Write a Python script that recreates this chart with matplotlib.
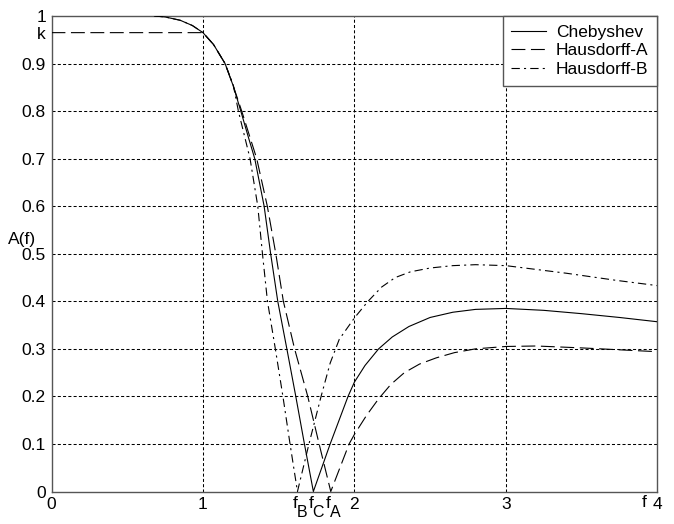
import matplotlib
matplotlib.use("Agg")
import matplotlib.pyplot as plt

plt.rcParams['font.family'] = ['Liberation Sans', 'DejaVu Sans']
plt.rcParams['font.size'] = 12.5
plt.rcParams['lines.scale_dashes'] = False

# passband level k and the three zeros
k = 0.965
f_B = 1.624
f_C = 1.729
f_A = 1.844

# Chebyshev (solid)
cheb_x = [0.68, 0.75, 0.85, 0.93, 1.0, 1.07, 1.146, 1.2, 1.25, 1.3, 1.342, 1.404, 1.447, 1.494,
          1.554, 1.613, 1.670, f_C, 1.84, 1.958, 2.0, 2.07, 2.16, 2.25, 2.36, 2.5, 2.65, 2.8,
          3.0, 3.25, 3.5, 3.75, 4.0]
cheb_y = [1.0, 0.998, 0.991, 0.98, 0.965, 0.94, 0.9, 0.853, 0.8, 0.745, 0.7, 0.6, 0.5, 0.4,
          0.3, 0.2, 0.1, 0.0, 0.1, 0.2, 0.23, 0.265, 0.3, 0.325, 0.347, 0.366, 0.377, 0.383,
          0.385, 0.381, 0.374, 0.366, 0.357]

# Hausdorff-A (dashed)
ha_x = [0.0, 1.0, 1.07, 1.146, 1.2, 1.256, 1.355, 1.425, 1.481, 1.531, 1.605, 1.692,
        1.767, f_A, 1.965, 2.0, 2.08, 2.16, 2.24, 2.33, 2.43, 2.54, 2.66, 2.8, 3.0, 3.2,
        3.5, 3.75, 4.0]
ha_y = [k, k, 0.94, 0.9, 0.853, 0.8, 0.7, 0.6, 0.5, 0.4, 0.3, 0.2,
        0.1, 0.0, 0.1, 0.12, 0.16, 0.195, 0.225, 0.25, 0.268, 0.281, 0.292, 0.3, 0.305, 0.306,
        0.302, 0.298, 0.294]

# Hausdorff-B (dash-dot)
hb_x = [0.68, 0.75, 0.85, 0.93, 1.0, 1.07, 1.146, 1.2, 1.234, 1.311, 1.362, 1.393, 1.426,
        1.478, 1.528, 1.575, f_B, 1.70, 1.78, 1.84, 1.9, 2.0, 2.09, 2.18, 2.27, 2.37, 2.5,
        2.65, 2.8, 3.0, 3.4, 3.73, 4.0]
hb_y = [1.0, 0.998, 0.991, 0.98, 0.965, 0.94, 0.9, 0.855, 0.8, 0.7, 0.6, 0.5, 0.4,
        0.3, 0.2, 0.1, 0.0, 0.1, 0.2, 0.27, 0.32, 0.365, 0.4, 0.43, 0.45, 0.462, 0.47,
        0.475, 0.477, 0.475, 0.459, 0.444, 0.433]

xtick_pos = [0, 1, f_B, f_C, f_A, 2, 3, 4]
xtick_lab = ['0', '1', '', '', '', '2', '3', '4']
sub_pos = [f_B, f_C, f_A]
sub_lab = ['B', 'C', 'A']
ytick_pos = [0, 0.1, 0.2, 0.3, 0.4, 0.5, 0.6, 0.7, 0.8, 0.9, k, 1]
ytick_lab = ['0', '0.1', '0.2', '0.3', '0.4', '0.5', '0.6', '0.7', '0.8', '0.9', 'k', '1']
grid_x = [1, 2, 3]
grid_y = [0.1, 0.2, 0.3, 0.4, 0.5, 0.6, 0.7, 0.8, 0.9]

fig = plt.figure(figsize=(6.74, 5.24), dpi=100)
ax = fig.add_axes([51.5 / 674, 1 - 491.5 / 524, 605.8 / 674, 475.5 / 524])

# dotted grid only at the round values
for gx in grid_x:
    ax.axvline(gx, color='black', lw=0.75, dashes=(2.2, 1.6), zorder=1)
for gy in grid_y:
    ax.axhline(gy, color='black', lw=0.75, dashes=(2.2, 1.6), zorder=1)

lw = 0.8
ax.plot(cheb_x, cheb_y, color='black', lw=lw, label='Chebyshev', zorder=3)
ax.plot(ha_x, ha_y, color='black', lw=lw, dashes=(10, 4), label='Hausdorff-A', zorder=3)
ax.plot(hb_x, hb_y, color='black', lw=lw, dashes=(6, 3, 1.5, 3), label='Hausdorff-B', zorder=3)

ax.set_xlim(0, 4)
ax.set_ylim(0, 1)
ax.set_xticks(xtick_pos)
ax.set_xticklabels(xtick_lab)
ax.set_yticks(ytick_pos)
ax.set_yticklabels(ytick_lab)
ax.tick_params(length=0, pad=4, colors='black')

# f with a lowered, nearly full-size subscript under the zeros
for pos, lab in zip(sub_pos, sub_lab):
    ax.annotate('f', xy=(pos, 0), xycoords=('data', 'axes fraction'), xytext=(-1.8, -3),
                textcoords='offset points', ha='center', va='top')
    ax.annotate(lab, xy=(pos, 0), xycoords=('data', 'axes fraction'), xytext=(3.6, -9.5),
                textcoords='offset points', ha='center', va='top', fontsize=11.5)

ax.text(-0.049, 0.53, 'A(f)', transform=ax.get_yaxis_transform(), ha='center', va='center')
ax.text(3.913, -0.008, 'f', transform=ax.get_xaxis_transform(), ha='center', va='top')

for s in ax.spines.values():
    s.set_color('#555555')
    s.set_linewidth(1.0)

leg = ax.legend(loc='upper right', bbox_to_anchor=(1, 1), borderaxespad=0, fancybox=False,
                framealpha=1, edgecolor='#555555', handlelength=2.0, handletextpad=0.57,
                labelspacing=0.2, borderpad=0.5)
leg.get_frame().set_linewidth(1.0)

fig.savefig('out.png', dpi=100)
